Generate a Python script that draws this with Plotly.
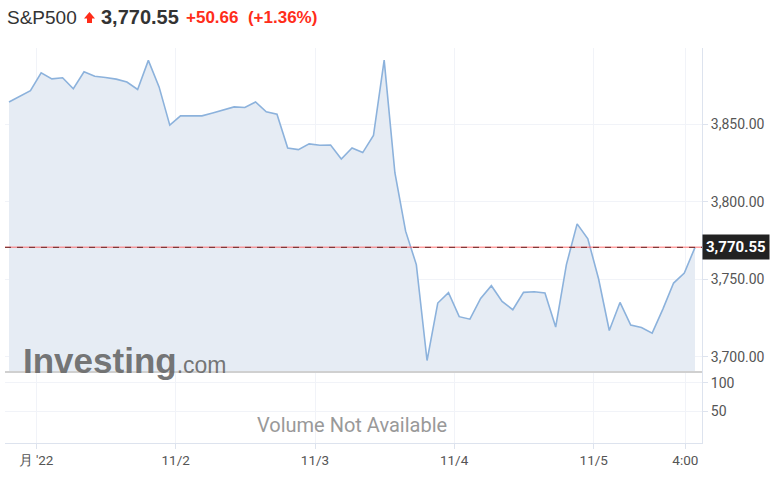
"""S&P500 intraday (30 min) — área com preço atual e painel de volume vazio."""
import plotly.graph_objects as go

# Preços de fechamento a cada 30 min (índice sequencial de barras)
precos = [
    3864.4, 3868.0, 3871.6, 3883.2, 3879.3, 3880.0, 3872.9, 3883.9, 3881.0, 3880.2,
    3879.1, 3877.2, 3872.4, 3891.2, 3874.1, 3849.4, 3855.4, 3855.4, 3855.4, 3857.3,
    3859.2, 3861.2, 3860.8, 3864.4, 3858.0, 3856.5, 3834.7, 3833.6, 3837.3, 3836.4,
    3836.6, 3827.5, 3834.7, 3831.7, 3842.7, 3891.4, 3818.7, 3781.0, 3759.4, 3697.5,
    3734.6, 3741.3, 3725.8, 3724.2, 3737.6, 3745.8, 3735.6, 3730.3, 3741.5, 3741.9,
    3741.1, 3719.1, 3759.4, 3785.7, 3776.0, 3750.3, 3716.9, 3735.0, 3720.4, 3718.8,
    3715.2, 3730.7, 3747.5, 3754.0, 3770.55,
]
barras = list(range(len(precos)))

ultimo = 3770.55
variacao = "+50.66"
variacao_pct = "(+1.36%)"

rotulos_x = ["月 '22", "11/2", "11/3", "11/4", "11/5", "4:00"]
posicoes_x = [2.52, 15.55, 28.55, 41.52, 54.55, 63.1]

ticks_preco = [3700, 3750, 3800, 3850]
ticks_volume = [50, 100]

_COR_LINHA = "#8cb2dc"
_COR_AREA = "#e6ecf4"
_COR_GRADE = "#f1f3f8"
_COR_TEXTO = "#555555"
_COR_VERMELHO = "#ff2d1a"

# geometria em pixels da figura
_L, _R, _T, _B = 5, 702, 48, 443


def _px(x, y):
    """Pixel da figura -> coordenadas 'paper'."""
    return (x - _L) / (_R - _L), (_B - y) / (_B - _T)


fig = go.Figure()

fig.add_trace(go.Scatter(
    x=barras, y=precos, mode="lines",
    line=dict(color=_COR_LINHA, width=1.6),
    fill="tozeroy", fillcolor=_COR_AREA,
    hoverinfo="skip", showlegend=False,
))
# painel de volume vazio (só para criar o eixo)
fig.add_trace(go.Scatter(
    x=[barras[0]], y=[None], yaxis="y2", mode="lines",
    showlegend=False, hoverinfo="skip",
))

dom_vol = 71 / 395
fonte_eixo = dict(family="Roboto, sans-serif", size=13.5, color=_COR_TEXTO)
fonte_y = dict(family="Roboto, sans-serif", size=14, color=_COR_TEXTO)

fig.update_layout(
    width=777, height=477,
    margin=dict(l=_L, r=777 - _R, t=_T, b=477 - _B, autoexpand=False),
    paper_bgcolor="white", plot_bgcolor="white",
    font=dict(family="Roboto, sans-serif", size=13, color=_COR_TEXTO),
    xaxis=dict(
        range=[-0.373, 64.65], tickvals=posicoes_x, ticktext=rotulos_x,
        showgrid=True, gridcolor=_COR_GRADE, gridwidth=1,
        showline=True, linecolor="#dde3ee", linewidth=1,
        ticks="outside", ticklen=5, tickcolor="#dde3ee",
        tickfont=fonte_eixo, zeroline=False, anchor="y2",
    ),
    yaxis=dict(
        domain=[dom_vol, 1], range=[3690.1, 3899.2], side="right",
        tickvals=ticks_preco, tickformat=",.2f",
        showgrid=True, gridcolor=_COR_GRADE, zeroline=False,
        ticks="outside", ticklen=5, tickcolor="#dde3ee",
        showline=True, linecolor="#dde3ee", linewidth=1,
        tickfont=fonte_y,
    ),
    yaxis2=dict(
        domain=[0, dom_vol], range=[-7, 119.6], side="right",
        tickvals=ticks_volume, showgrid=True, gridcolor=_COR_GRADE,
        zeroline=False, ticks="outside", ticklen=5, tickcolor="#dde3ee",
        showline=True, linecolor="#dde3ee", linewidth=1,
        tickfont=fonte_y,
    ),
)

# separador entre painéis
fig.add_shape(type="line", xref="paper", yref="paper", x0=0, x1=1,
              y0=dom_vol, y1=dom_vol, line=dict(color="#d0d0d0", width=2))

# linha do último preço
fig.add_shape(type="line", xref="paper", yref="y", x0=0, x1=1,
              y0=ultimo, y1=ultimo, line=dict(color="rgba(255,80,80,0.55)", width=1.5))
fig.add_shape(type="line", xref="paper", yref="y", x0=0, x1=1,
              y0=ultimo, y1=ultimo, line=dict(color="#6b2525", width=1, dash="6px,6px"))

# seta vermelha de alta no cabeçalho
seta = [(89.5, 12), (95, 18.5), (92, 18.5), (92, 23), (87, 23), (87, 18.5), (84, 18.5)]
caminho = "M " + " L ".join(f"{a:.5f},{b:.5f}" for a, b in (_px(x, y) for x, y in seta)) + " Z"
fig.add_shape(type="path", xref="paper", yref="paper", path=caminho,
              fillcolor=_COR_VERMELHO, line=dict(width=0))

anot = []
# rótulo de preço no eixo
anot.append(dict(
    xref="paper", yref="y", x=1.0, y=ultimo, xanchor="left", yanchor="middle",
    text=f"<b>{ultimo:,.2f}</b>", showarrow=False, bgcolor="#222222",
    font=dict(family="Roboto, sans-serif", size=15, color="white"),
    borderpad=3,
))

# cabeçalho
_, y_tit = _px(0, 17)
anot.append(dict(xref="paper", yref="paper", x=0, y=y_tit, xanchor="left",
                 yanchor="middle", showarrow=False, text="S&P500",
                 font=dict(family="Liberation Sans, Arial", size=19, color="#333333")))
anot.append(dict(xref="paper", yref="paper", x=_px(99, 0)[0], y=y_tit, xanchor="left",
                 yanchor="middle", showarrow=False, text=f"<b>{ultimo:,.2f}</b>",
                 font=dict(family="Liberation Sans, Arial", size=20, color="#333333")))
anot.append(dict(xref="paper", yref="paper", x=_px(184, 0)[0], y=y_tit, xanchor="left",
                 yanchor="middle", showarrow=False,
                 text=f"<b>{variacao}</b>  <b>{variacao_pct}</b>",
                 font=dict(family="Liberation Sans, Arial", size=17, color=_COR_VERMELHO)))

# marca d'água e aviso de volume
xw, yw = _px(21, 360)
anot.append(dict(xref="paper", yref="paper", x=xw, y=yw,
                 xanchor="left", yanchor="middle", showarrow=False,
                 text="<b>Investing</b><span style='font-size:23px'>.com</span>",
                 font=dict(family="Liberation Sans, Arial", size=35,
                           color="rgba(105,105,105,0.92)")))
xv, yv = _px(352, 425)
anot.append(dict(xref="paper", yref="paper", x=xv, y=yv,
                 xanchor="center", yanchor="middle", showarrow=False,
                 text="Volume Not Available",
                 font=dict(family="Roboto, sans-serif", size=20, color="#999999")))

fig.update_layout(annotations=anot)

fig.write_html("out.html", config={"displayModeBar": False},
               post_script="document.body.style.margin='0';")
